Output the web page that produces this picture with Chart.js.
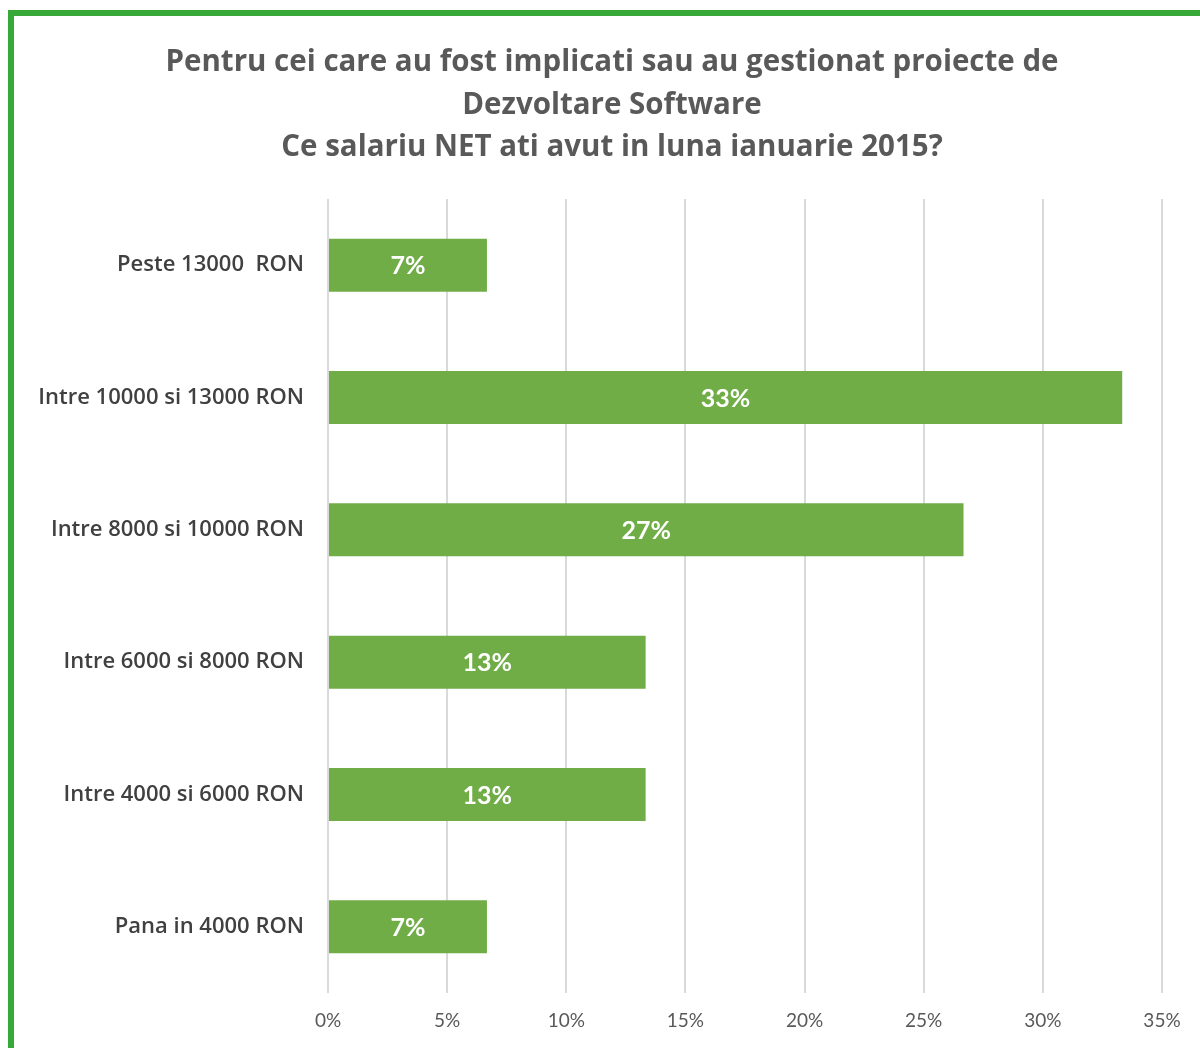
<!DOCTYPE html>
<html>
<head>
<meta charset="utf-8">
<script src="https://cdn.jsdelivr.net/npm/chart.js@4/dist/chart.umd.min.js"></script>
<style>
  html, body { margin: 0; padding: 0; background: #fff; }
  #wrap { position: relative; width: 1200px; height: 1048px; overflow: hidden; }
  #frame { position: absolute; left: 8px; top: 10px; width: 1300px; height: 1200px;
           border-left: 6px solid #38a838; border-top: 6px solid #38a838; box-sizing: border-box; }
  canvas { position: absolute; left: 0; top: 0; }
</style>
</head>
<body>
<div id="wrap">
  <div id="frame"></div>
  <canvas id="barChart" width="1200" height="1048"></canvas>
</div>
<script>
// salary ranges, top to bottom
const categories = [
  'Peste 13000  RON',
  'Intre 10000 si 13000 RON',
  'Intre 8000 si 10000 RON',
  'Intre 6000 si 8000 RON',
  'Intre 4000 si 6000 RON',
  'Pana in 4000 RON'
];
const percentValues = [6.67, 33.33, 26.67, 13.33, 13.33, 6.67];
const tickValues = [0, 5, 10, 15, 20, 25, 30, 35];
const titleLines = [
  'Pentru cei care au fost implicati sau au gestionat proiecte de',
  'Dezvoltare Software',
  'Ce salariu NET ati avut in luna ianuarie 2015?'
];

const FONT = 'Lato, "Open Sans", sans-serif';
const WIDE = '"Open Sans", Lato, sans-serif';

// title is drawn by hand so it can be centred on the whole picture
const chartTitle = {
  id: 'chartTitle',
  afterDraw(chart) {
    const ctx = chart.ctx;
    ctx.save();
    ctx.fillStyle = '#595959';
    ctx.font = 'bold 29.5px ' + WIDE;
    ctx.textAlign = 'center';
    ctx.textBaseline = 'middle';
    titleLines.forEach((line, i) => {
      ctx.fillText(line, 612, 63 + i * 42.5);
    });
    ctx.restore();
  }
};

// writes the rounded percentage inside each bar
const barLabels = {
  id: 'barLabels',
  afterDatasetsDraw(chart) {
    const ctx = chart.ctx;
    const meta = chart.getDatasetMeta(0);
    ctx.save();
    ctx.fillStyle = '#ffffff';
    ctx.font = 'bold 25px ' + FONT;
    ctx.textAlign = 'center';
    ctx.textBaseline = 'middle';
    meta.data.forEach((bar, i) => {
      const cx = (bar.x + bar.base) / 2;
      ctx.fillText(Math.round(percentValues[i]) + '%', cx, bar.y + 1);
    });
    ctx.restore();
  }
};

const ctx = document.getElementById('barChart').getContext('2d');
const barChart = new Chart(ctx, {
  type: 'bar',
  data: {
    labels: categories,
    datasets: [{
      data: percentValues,
      backgroundColor: '#70ad47',
      barPercentage: 0.4,
      categoryPercentage: 1.0
    }]
  },
  options: {
    indexAxis: 'y',
    responsive: false,
    animation: false,
    layout: { padding: { left: 0, right: 38, top: 199, bottom: 0 } },
    plugins: {
      legend: { display: false },
      tooltip: { enabled: false },
      title: { display: false }
    },
    scales: {
      x: {
        min: 0,
        max: 35,
        afterBuildTicks(scale) {
          scale.ticks = tickValues.map(v => ({ value: v }));
        },
        afterFit(scale) { scale.height = 55; },
        grid: { color: '#d9d9d9', lineWidth: 2, drawTicks: false },
        border: { display: false },
        ticks: {
          color: '#595959',
          font: { family: FONT, size: 19 },
          padding: 16,
          callback: v => v + '%'
        }
      },
      y: {
        afterFit(scale) { scale.width = 328; },
        grid: { display: false },
        border: { display: false },
        ticks: {
          color: '#404040',
          font: { family: WIDE, size: 22, weight: '600' },
          padding: 16
        }
      }
    }
  },
  plugins: [barLabels, chartTitle]
});
</script>
</body>
</html>
